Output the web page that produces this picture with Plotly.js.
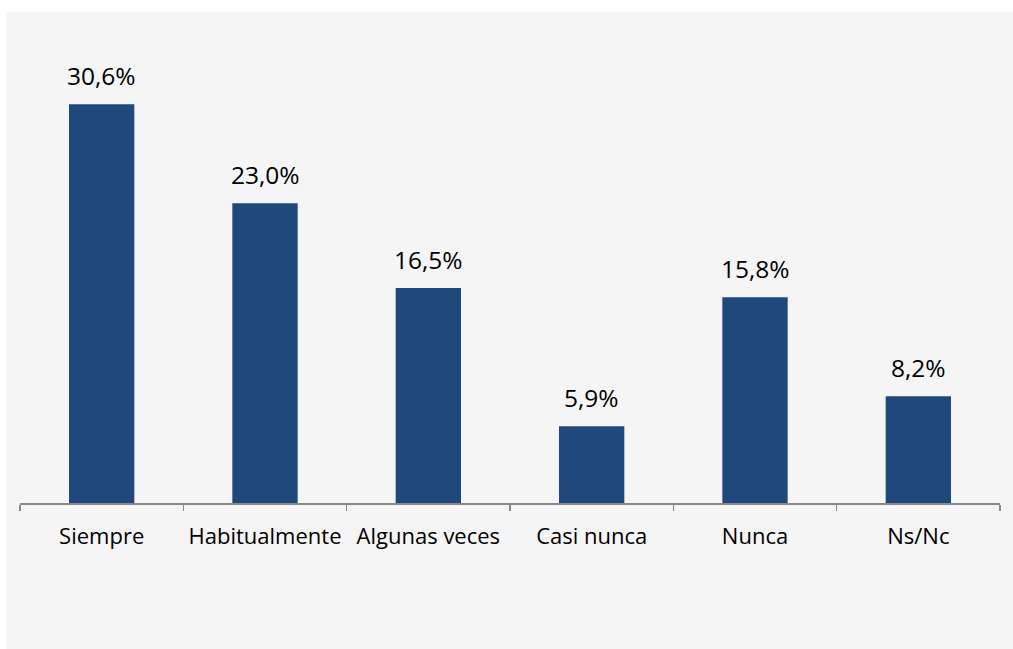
<!DOCTYPE html>
<html>
<head>
<meta charset="utf-8">
<script src="https://cdn.plot.ly/plotly-3.0.1.min.js"></script>
<style>
html,body{margin:0;padding:0;background:#ffffff;width:1013px;height:649px;overflow:hidden;}
#chart{position:absolute;left:6px;top:12px;width:1007px;height:637px;}
</style>
</head>
<body>
<div id="chart"></div>
<script>
const categories = ["Siempre", "Habitualmente", "Algunas veces", "Casi nunca", "Nunca", "Ns/Nc"];
const values = [30.6, 23.0, 16.5, 5.9, 15.8, 8.2];
const labels = ["30,6%", "23,0%", "16,5%", "5,9%", "15,8%", "8,2%"];

const FONT = "Open Sans, sans-serif";
const trace = {
  type: "bar",
  x: categories,
  y: values,
  marker: {color: "#1f497d"},
  hoverinfo: "none"
};
const annotations = categories.map((c, i) => ({
  x: c, y: values[i], text: labels[i], showarrow: false,
  xref: "x", yref: "y", yanchor: "bottom", yshift: 10,
  font: {family: FONT, size: 24.5, color: "#000000"}
}));
const layout = {
  width: 1007, height: 637,
  margin: {l: 14, r: 13, t: 34.6, b: 146},
  paper_bgcolor: "#f5f5f5",
  plot_bgcolor: "#f5f5f5",
  bargap: 0.6,
  showlegend: false,
  xaxis: {
    type: "category",
    range: [-0.5, 5.5],
    showline: true, linecolor: "#898989", linewidth: 2,
    ticks: "outside", tickson: "boundaries", ticklen: 6, tickcolor: "#898989", tickwidth: 1.5,
    ticklabelstandoff: 13,
    tickfont: {family: FONT, size: 22, color: "#000000"},
    showgrid: false, zeroline: false, fixedrange: true
  },
  yaxis: {
    range: [0, 35], visible: false, showgrid: false, zeroline: false, fixedrange: true
  },
  annotations: annotations
};
Plotly.newPlot("chart", [trace], layout, {displayModeBar: false, staticPlot: true});
</script>
</body>
</html>
